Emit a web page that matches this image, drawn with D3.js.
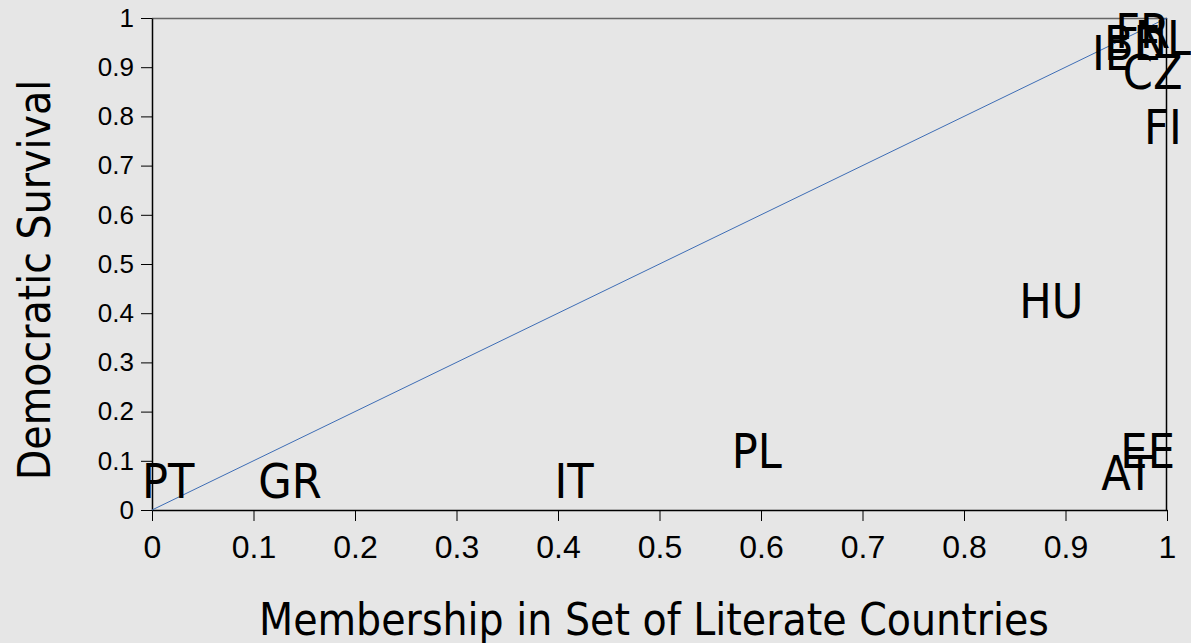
<!DOCTYPE html>
<html>
<head>
    <meta charset="utf-8">
    <style>
        body { margin: 0; background: #e6e6e6; }
        svg { display: block; font-family: 'DejaVu Sans Condensed', 'DejaVu Sans', sans-serif; font-stretch: condensed; }
        .x .tick text { font-size: 32px; fill: #000; }
        .y .tick text { font-size: 26px; fill: #000; }
        .tick line { stroke: #000; }
        .domain { stroke: #000; }
    </style>
</head>
<body>
    <svg width="1191" height="643"></svg>

<script src="https://d3js.org/d3.v7.min.js"></script>
<script>
    // country codes and fuzzy membership scores
    let countries = ["PT", "GR", "IT", "PL", "HU", "AT", "EE", "FI", "CZ", "IE", "BE", "FR", "NL"];
    let literacy  = [0.01, 0.13, 0.41, 0.59, 0.88, 0.955, 0.975, 0.99, 0.98, 0.94, 0.96, 0.97, 0.99];
    let survival  = [0.06, 0.06, 0.06, 0.12, 0.425, 0.075, 0.12, 0.78, 0.89, 0.93, 0.95, 0.975, 0.96];
    let tickValues = [0, 0.1, 0.2, 0.3, 0.4, 0.5, 0.6, 0.7, 0.8, 0.9, 1];
    let tickLabels = ["0", "0.1", "0.2", "0.3", "0.4", "0.5", "0.6", "0.7", "0.8", "0.9", "1"];

    let data = countries.map((c, i) => ({ name: c, lit: literacy[i], surv: survival[i] }));

    let width = 1191;
    let height = 643;
    let margin = { top: 18, right: 24, bottom: 133, left: 152 };

    let svg = d3.select("svg");

    let x = d3.scaleLinear()
        .domain([0, 1])
        .range([margin.left, width - margin.right]);

    let y = d3.scaleLinear()
        .domain([0, 1])
        .range([height - margin.bottom, margin.top]);

    // plot frame: grey top edge, black right edge
    svg.append("line")
        .attr("x1", x(0)).attr("x2", x(1))
        .attr("y1", y(1) + 0.5).attr("y2", y(1) + 0.5)
        .style("stroke", "#666")
        .style("stroke-width", "1.5px");

    svg.append("line")
        .attr("x1", x(1) - 0.5).attr("x2", x(1) - 0.5)
        .attr("y1", y(1)).attr("y2", y(0))
        .style("stroke", "#000")
        .style("stroke-width", "1.5px");

    let xAxis = d3.axisBottom(x)
        .tickValues(tickValues)
        .tickFormat((d, i) => tickLabels[i])
        .tickSize(11)
        .tickPadding(10)
        .tickSizeOuter(0);

    let yAxis = d3.axisLeft(y)
        .tickValues(tickValues)
        .tickFormat((d, i) => tickLabels[i])
        .tickSize(11)
        .tickPadding(7)
        .tickSizeOuter(0);

    svg.append("g")
        .attr("class", "x axis")
        .attr("transform", `translate(0,${y(0)})`)
        .call(xAxis)
        .selectAll(".tick text")
        .attr("dy", "0.85em");

    svg.append("g")
        .attr("class", "y axis")
        .attr("transform", `translate(${x(0)},0)`)
        .call(yAxis);

    svg.selectAll(".domain").style("stroke-width", "1.5px");

    // diagonal y = x
    let diag = d3.line()
        .x(d => x(d))
        .y(d => y(d));

    svg.append("path")
        .attr("d", diag([0, 1]))
        .style("fill", "none")
        .style("stroke", "#3e6db5")
        .style("stroke-width", "1px");

    // country labels, sitting just right of their points
    svg.append("g")
        .selectAll("text")
        .data(data)
        .join("text")
        .attr("x", d => x(d.lit))
        .attr("y", d => y(d.surv))
        .attr("dx", 6)
        .attr("dy", "0.36em")
        .attr("text-anchor", "middle")
        .style("font-size", "48px")
        .style("fill", "#000")
        .text(d => d.name);

    // axis titles
    svg.append("text")
        .attr("x", 654)
        .attr("y", 635)
        .attr("text-anchor", "middle")
        .style("font-size", "44px")
        .text("Membership in Set of Literate Countries");

    svg.append("text")
        .attr("transform", "translate(50,280) rotate(-90)")
        .attr("text-anchor", "middle")
        .style("font-size", "44px")
        .text("Democratic Survival");
</script>
</body>
</html>
